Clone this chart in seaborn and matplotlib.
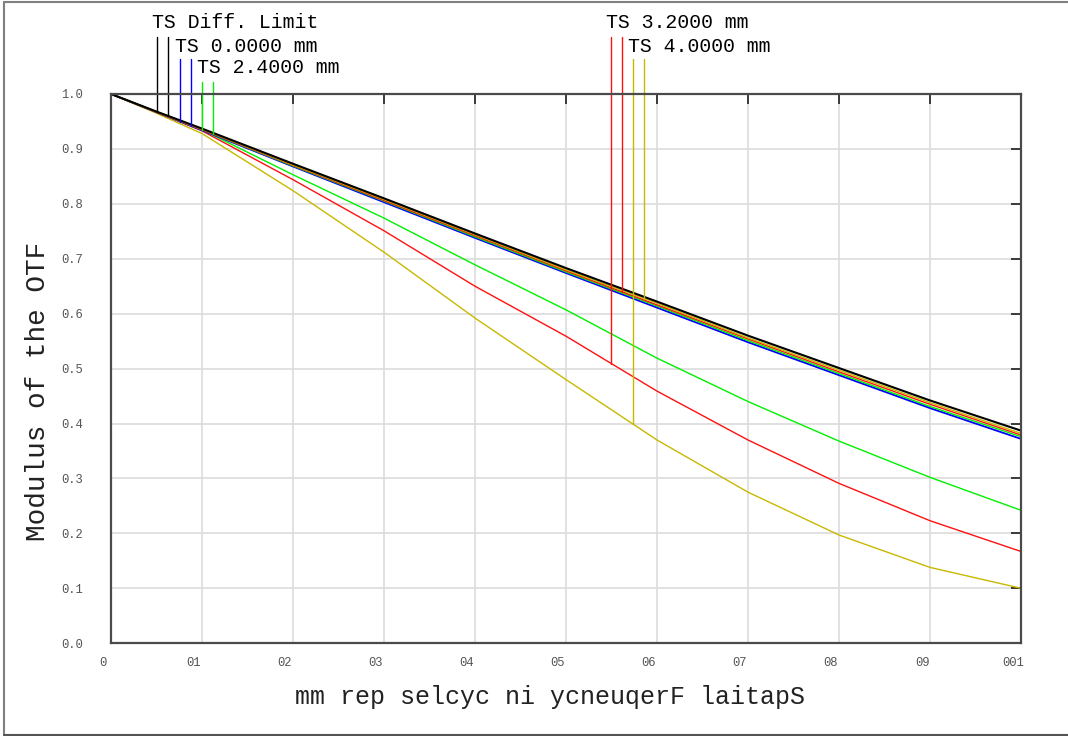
import numpy as np
import pandas as pd
import matplotlib
matplotlib.use("Agg")
import matplotlib.pyplot as plt
import matplotlib.transforms as mtransforms
from matplotlib.lines import Line2D
import seaborn as sns

# spatial frequency (cycles/mm) and MTF values
freq = [0, 5, 10, 20, 30, 40, 50, 60, 70, 80, 90, 100]
diff_limit = [1.0, 0.968, 0.937, 0.873, 0.810, 0.746, 0.683, 0.622, 0.560, 0.501, 0.442, 0.387]
field0_ts = [1.0, 0.967, 0.934, 0.868, 0.803, 0.738, 0.674, 0.611, 0.548, 0.488, 0.428, 0.372]
field24_t = [1.0, 0.968, 0.935, 0.853, 0.774, 0.689, 0.607, 0.519, 0.440, 0.368, 0.302, 0.242]
field24_s = [1.0, 0.967, 0.935, 0.869, 0.805, 0.740, 0.676, 0.614, 0.551, 0.491, 0.431, 0.376]
field32_t = [1.0, 0.967, 0.933, 0.844, 0.751, 0.650, 0.559, 0.459, 0.370, 0.291, 0.223, 0.167]
field32_s = [1.0, 0.967, 0.935, 0.870, 0.806, 0.742, 0.678, 0.616, 0.554, 0.494, 0.435, 0.379]
field40_t = [1.0, 0.965, 0.928, 0.824, 0.712, 0.592, 0.480, 0.370, 0.275, 0.197, 0.138, 0.100]
field40_s = [1.0, 0.968, 0.936, 0.871, 0.808, 0.744, 0.680, 0.619, 0.556, 0.497, 0.438, 0.382]

legend_labels = ["TS Diff. Limit", "TS 0.0000 mm", "TS 2.4000 mm", "TS 3.2000 mm", "TS 4.0000 mm"]
x_ticks = [0, 10, 20, 30, 40, 50, 60, 70, 80, 90, 100]
x_tick_labels = ["0", "01", "02", "03", "04", "05", "06", "07", "08", "09", "001"]
y_ticks = [0.0, 0.1, 0.2, 0.3, 0.4, 0.5, 0.6, 0.7, 0.8, 0.9, 1.0]
y_tick_labels = ["0.0", "0.1", "0.2", "0.3", "0.4", "0.5", "0.6", "0.7", "0.8", "0.9", "1.0"]
x_label = "mm rep selcyc ni ycneuqerF laitapS"
y_label = "Modulus of the OTF"

blue = "#0000ff"
green = "#00f000"
red = "#ff1010"
yellow = "#c8b800"

sns.set_style("white")
mono = ["Liberation Mono", "DejaVu Sans Mono"]
plt.rcParams["font.family"] = mono

fig = plt.figure(figsize=(10.68, 7.36), dpi=100)
ax = fig.add_axes([0.1039, 0.1261, 0.8521, 0.7462])

#curves, tangential ones first so the near-diffraction bundle sits on top
curves = [
    (field40_t, yellow, 1.0),
    (field32_t, red, 1.0),
    (field24_t, green, 1.0),
    (field0_ts, blue, 1.3),
    (field24_s, green, 1.0),
    (field32_s, red, 1.0),
    (field40_s, yellow, 1.0),
    (diff_limit, "black", 1.5),
]
for vals, col, lw in curves:
    df = pd.DataFrame({"freq": freq, "mtf": vals})
    sns.lineplot(data=df, x="freq", y="mtf", color=col, linewidth=lw, estimator=None, ax=ax)

ax.set_xlim(0, 100)
ax.set_ylim(0, 1)
ax.set_xticks(x_ticks)
ax.set_xticklabels(x_tick_labels)
ax.set_yticks(y_ticks)
ax.set_yticklabels(y_tick_labels)
ax.grid(True, color="#dcdcdc", linewidth=1.2)
for s in ax.spines.values():
    s.set_color("#4a4a4a")
    s.set_linewidth(1.6)
ax.tick_params(direction="in", length=7, width=1.4, color="#3a3a3a",
               top=True, right=True, labelsize=8.7, labelcolor="#555555")
ax.tick_params(axis="y", pad=20)
ax.tick_params(axis="x", pad=10)
offset = mtransforms.ScaledTranslation(-8 / 100, 0, fig.dpi_scale_trans)
for lab in ax.get_xticklabels():
    lab.set_transform(lab.get_transform() + offset)

ax.set_xlabel(x_label, fontsize=18, color="#222222")
ax.set_ylabel(y_label, fontsize=20, color="#222222")
ax.xaxis.set_label_coords((550 - 111) / 910, -0.098)
ax.yaxis.set_label_coords(-0.080, 0.4585)
ax.xaxis.label.set_va("center")
ax.yaxis.label.set_va("center")

# Zemax style legend: label text with T and S pointer lines dropping to the curves
legend_specs = [
    # label, text x, text baseline, line top, T curve, S curve, colour
    (legend_labels[0], 4.51, 1.121, 1.103, diff_limit, diff_limit, "black"),
    (legend_labels[1], 7.03, 1.077, 1.063, field0_ts, field0_ts, blue),
    (legend_labels[2], 9.45, 1.039, 1.022, field24_t, field24_s, green),
    (legend_labels[3], 54.4, 1.121, 1.103, field32_t, field32_s, red),
    (legend_labels[4], 56.8, 1.077, 1.063, field40_t, field40_s, yellow),
]
for label, tx, ty, top, t_vals, s_vals, col in legend_specs:
    ax.text(tx, ty, label, fontsize=14.3, color="black", ha="left", va="baseline", clip_on=False)
    xt = tx + 0.6
    xs = tx + 1.8
    ax.plot([xt, xt], [top, np.interp(xt, freq, t_vals)], color=col, lw=1.0, clip_on=False)
    ax.plot([xs, xs], [top, np.interp(xs, freq, s_vals)], color=col, lw=1.0, clip_on=False)

# outer frame of the window
fig.add_artist(Line2D([0.004, 1.0], [0.9973, 0.9973], color="#808080", lw=1.5))
fig.add_artist(Line2D([0.004, 0.004], [0.002, 0.9973], color="#808080", lw=1.5))
fig.add_artist(Line2D([0.004, 1.0], [0.002, 0.002], color="#555555", lw=1.5))

fig.savefig("out.png", dpi=100)
